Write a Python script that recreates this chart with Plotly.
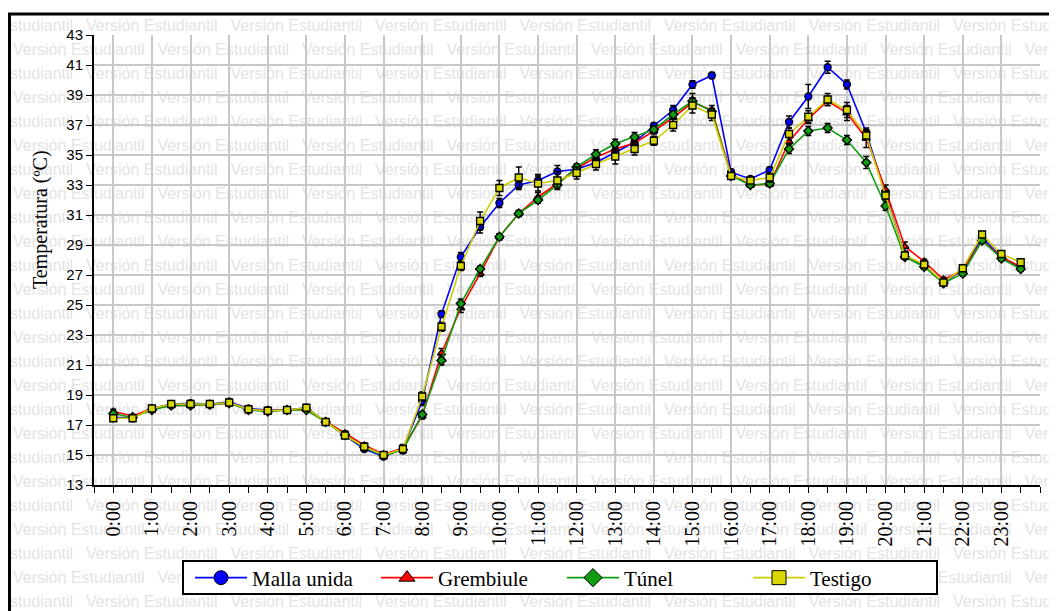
import plotly.graph_objects as go

# ---------------- data ----------------
time_labels = [f"{h}:{m:02d}" for h in range(24) for m in (0, 30)]
hour_tick_labels = [f"{h}:00" for h in range(24)]

malla = [17.5, 17.5, 18.1, 18.4, 18.45, 18.4, 18.55, 18.1, 18.0, 18.0, 18.15, 17.2,
         16.3, 15.4, 14.9, 15.4, 18.6, 24.4, 28.2, 30.2, 31.8, 33.0, 33.3, 33.9,
         34.05, 34.5, 35.2, 35.85, 36.95, 38.0, 39.7, 40.3, 33.85, 33.4, 34.0, 37.2,
         38.9, 40.85, 39.7, 36.5, 32.4, 28.3, 27.6, 26.45, 27.4, 29.5, 28.2, 27.5]
malla_err = [0.15, 0.1, 0.1, 0.1, 0.1, 0.1, 0.1, 0.1, 0.1, 0.1, 0.1, 0.1,
             0.15, 0.15, 0.1, 0.15, 0.3, 0.2, 0.3, 0.4, 0.3, 0.3, 0.4, 0.4,
             0.3, 0.3, 0.3, 0.2, 0.2, 0.3, 0.25, 0.2, 0.2, 0.15, 0.2, 0.4,
             0.8, 0.4, 0.3, 0.3, 0.2, 0.15, 0.15, 0.15, 0.15, 0.2, 0.15, 0.15]

grembiule = [17.9, 17.6, 18.1, 18.3, 18.3, 18.35, 18.45, 18.05, 17.95, 18.0, 18.05, 17.25,
             16.45, 15.65, 15.05, 15.45, 17.6, 21.8, 24.8, 27.1, 29.55, 31.1, 32.2, 33.1,
             34.1, 34.85, 35.4, 35.8, 36.6, 37.5, 38.5, 38.0, 33.7, 33.0, 33.05, 35.9,
             37.4, 38.6, 37.8, 36.1, 32.7, 28.9, 27.9, 26.7, 27.3, 29.3, 28.2, 27.55]
grembiule_err = [0.15, 0.1, 0.1, 0.1, 0.1, 0.1, 0.1, 0.1, 0.1, 0.1, 0.1, 0.15,
                 0.15, 0.15, 0.1, 0.15, 0.2, 0.3, 0.3, 0.2, 0.2, 0.2, 0.3, 0.2,
                 0.2, 0.2, 0.2, 0.2, 0.2, 0.3, 0.3, 0.3, 0.15, 0.15, 0.15, 0.4,
                 0.3, 0.3, 0.5, 0.6, 0.3, 0.3, 0.15, 0.15, 0.15, 0.15, 0.15, 0.15]

tunel = [17.75, 17.5, 18.0, 18.3, 18.3, 18.35, 18.45, 18.0, 17.9, 18.0, 18.0, 17.2,
         16.35, 15.5, 14.95, 15.35, 17.7, 21.3, 25.1, 27.4, 29.55, 31.1, 32.0, 33.0,
         34.2, 35.05, 35.75, 36.2, 36.7, 37.7, 38.6, 37.9, 33.6, 33.0, 33.1, 35.4,
         36.6, 36.8, 36.0, 34.5, 31.6, 28.2, 27.55, 26.45, 27.1, 29.3, 28.1, 27.4]
tunel_err = [0.15, 0.1, 0.1, 0.1, 0.1, 0.1, 0.1, 0.1, 0.1, 0.1, 0.1, 0.1,
             0.15, 0.15, 0.1, 0.15, 0.2, 0.3, 0.3, 0.2, 0.2, 0.2, 0.2, 0.2,
             0.2, 0.3, 0.3, 0.3, 0.2, 0.2, 0.5, 0.2, 0.15, 0.15, 0.15, 0.3,
             0.3, 0.3, 0.3, 0.4, 0.3, 0.15, 0.15, 0.15, 0.15, 0.15, 0.15, 0.15]

testigo = [17.45, 17.45, 18.1, 18.4, 18.4, 18.4, 18.5, 18.05, 17.95, 18.0, 18.15, 17.2,
           16.3, 15.55, 15.0, 15.4, 18.9, 23.55, 27.6, 30.6, 32.8, 33.5, 33.1, 33.3,
           33.8, 34.4, 34.9, 35.4, 35.95, 37.0, 38.3, 37.7, 33.6, 33.3, 33.5, 36.4,
           37.55, 38.7, 38.0, 36.3, 32.3, 28.3, 27.7, 26.5, 27.45, 29.7, 28.4, 27.85]
testigo_err = [0.15, 0.1, 0.1, 0.1, 0.1, 0.1, 0.1, 0.1, 0.1, 0.1, 0.1, 0.1,
               0.15, 0.15, 0.1, 0.3, 0.3, 0.3, 0.3, 0.6, 0.5, 0.7, 0.5, 0.6,
               0.4, 0.4, 0.5, 0.4, 0.3, 0.4, 0.5, 0.4, 0.2, 0.15, 0.3, 0.4,
               0.4, 0.4, 0.5, 0.3, 0.3, 0.2, 0.15, 0.15, 0.15, 0.2, 0.15, 0.2]

series_names = ["Malla unida", "Grembiule", "Túnel", "Testigo"]
series_values = [malla, grembiule, tunel, testigo]
series_errors = [malla_err, grembiule_err, tunel_err, testigo_err]
line_colors = ["#0000ff", "#ff0000", "#109c10", "#cccc00"]
marker_fills = ["#0000ff", "#ff0000", "#109c10", "#d8d800"]
marker_symbols = ["circle", "triangle-up", "diamond", "square"]

hours = [int(t.split(":")[0]) + int(t.split(":")[1]) / 60 for t in time_labels]

# ---------------- geometry (screen pixels; page has an 8px body margin) ----------------
OFF = 8
W, H = 1057 - OFF, 611 - OFF
ML, MT = 94 - OFF, 35 - OFF
MR = W - (1040 - OFF)
MB = H - (485 - OFF)
PW, PH = W - ML - MR, H - MT - MB

def px_to_paper(px, py):
    return (px - OFF - ML) / PW, (H - MB - (py - OFF)) / PH

fig = go.Figure()

for name, vals, errs, lc, mf, sym in zip(series_names, series_values, series_errors,
                                          line_colors, marker_fills, marker_symbols):
    fig.add_trace(go.Scatter(
        x=hours, y=vals, mode="lines+markers", name=name, showlegend=False,
        line=dict(color=lc, width=1.6),
        marker=dict(symbol=sym, size=7, color=mf, line=dict(color="black", width=1.3)),
        error_y=dict(type="data", array=errs, visible=True, color="black",
                     thickness=1.4, width=3),
    ))

legend_ids = ["legend", "legend2", "legend3", "legend4"]
for name, lc, mf, sym, lg in zip(series_names, line_colors, marker_fills, marker_symbols, legend_ids):
    fig.add_trace(go.Scatter(
        x=[None], y=[None], mode="lines+markers", name=name, showlegend=True, legend=lg,
        line=dict(color=lc, width=1.6),
        marker=dict(symbol=sym, size=14, color=mf, line=dict(color="black", width=1)),
    ))

# watermark "Versión Estudiantil"
shapes = []
for i in range(25):
    cy = 23 + 24.04 * i
    start = -61.5 if i % 2 == 0 else 10 - 144.5
    for k in range(9):
        sx = start + 144.5 * k
        if sx > 1057:
            break
        x0, y0 = px_to_paper(sx, cy + 10)
        x1, y1 = px_to_paper(sx + 140, cy - 10)
        shapes.append(dict(
            type="rect", xref="paper", yref="paper", x0=x0, x1=x1, y0=y0, y1=y1,
            layer="below", line=dict(width=0), fillcolor="rgba(0,0,0,0)",
            label=dict(text="Versión Estudiantil", textposition="middle left", padding=0,
                       font=dict(family="Liberation Sans, Arial", size=16, color="#e4e4e4")),
        ))

# outer border
bx0, by1 = px_to_paper(9.5, 14)
bx1, by0 = px_to_paper(1080, 640)
shapes.append(dict(type="rect", xref="paper", yref="paper", x0=bx0, x1=bx1, y0=by0, y1=by1,
                   layer="above", line=dict(color="black", width=3), fillcolor="rgba(0,0,0,0)"))

# legend frame
fx0, fy1 = px_to_paper(183, 561)
fx1, fy0 = px_to_paper(937, 594)
shapes.append(dict(type="rect", xref="paper", yref="paper", x0=fx0, x1=fx1, y0=fy0, y1=fy1,
                   layer="above", line=dict(color="black", width=2), fillcolor="white"))

tx, ty = px_to_paper(40, 220)

legend_font = dict(family="Liberation Serif, Times New Roman", size=21, color="black")
legend_layouts = {}
for k, lg in enumerate(legend_ids):
    lxk, lyk = px_to_paper(190 + 186 * k, 578)
    legend_layouts[lg] = dict(
        orientation="h", x=lxk, y=lyk, xanchor="left", yanchor="middle",
        bgcolor="rgba(0,0,0,0)", borderwidth=0, font=legend_font, itemwidth=52,
    )

fig.update_layout(
    width=W, height=H,
    margin=dict(l=ML, r=MR, t=MT, b=MB, autoexpand=False),
    paper_bgcolor="white", plot_bgcolor="rgba(0,0,0,0)",
    shapes=shapes,
    showlegend=True,
    annotations=[dict(
        text="Temperatura (ºC)", xref="paper", yref="paper", x=tx, y=ty,
        xanchor="center", yanchor="middle", textangle=-90, showarrow=False,
        font=dict(family="Liberation Serif, Times New Roman", size=20, color="black"),
    )],
    xaxis=dict(
        range=[-0.5, 24], tickmode="array", tickvals=list(range(24)), ticktext=hour_tick_labels,
        tickangle=-90, tickfont=dict(family="Liberation Serif, Times New Roman", size=20, color="black"),
        showgrid=True, gridcolor="#c8c8c8", gridwidth=2,
        showline=True, linecolor="black", linewidth=2,
        ticks="outside", ticklen=6, tickwidth=1.2, tickcolor="black",
        minor=dict(tick0=0, dtick=0.5, ticks="outside", ticklen=6, tickwidth=1.2,
                   tickcolor="black", showgrid=False),
        zeroline=False, automargin=False,
    ),
    yaxis=dict(
        range=[13, 43], tick0=13, dtick=2,
        tickfont=dict(family="Liberation Sans, Arial", size=15, color="black"),
        showgrid=True, gridcolor="#c8c8c8", gridwidth=2,
        showline=True, linecolor="black", linewidth=2,
        ticks="outside", ticklen=6, tickwidth=1.2, tickcolor="black",
        zeroline=False, automargin=False,
    ),
    **legend_layouts,
)

fig.write_html("out.html")
